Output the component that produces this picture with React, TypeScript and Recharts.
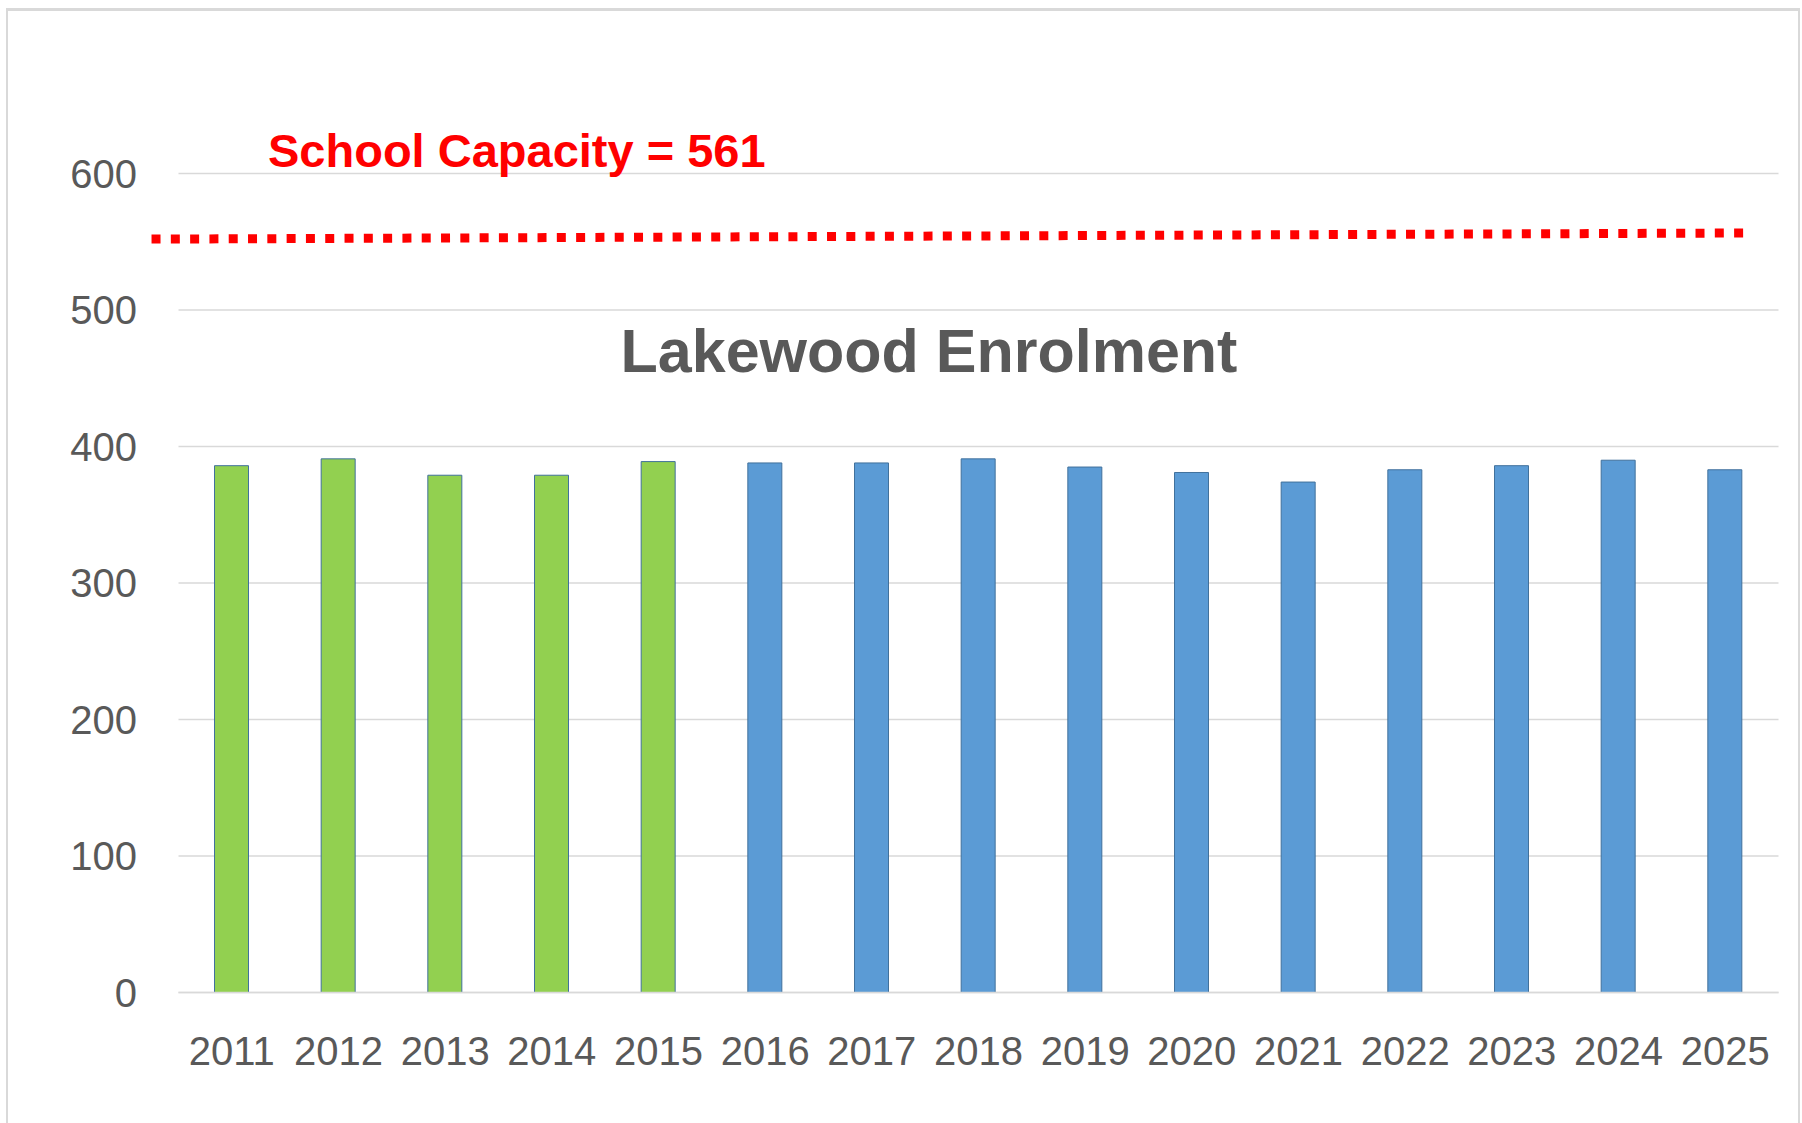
import { Bar, BarChart, CartesianGrid, Cell, ReferenceLine, XAxis, YAxis } from "recharts";

// enrolment by school year; first five are actuals, the rest projections
const years = ["2011", "2012", "2013", "2014", "2015", "2016", "2017", "2018", "2019", "2020", "2021", "2022", "2023", "2024", "2025"];
const enrolment = [386, 391, 379, 379, 389, 388, 388, 391, 385, 381, 374, 383, 386, 390, 383];
const actualCount = 5;
const yTicks = [0, 100, 200, 300, 400, 500, 600];

const capacity = 561;
// the hand-drawn capacity line, in helper-axis (0..14 across the plot) / enrolment units
const capacityLine = [
  { x: -0.236, y: 552 },
  { x: 13.755, y: 556.5 },
];

const title = "Lakewood Enrolment";

const data = years.map((year, i) => ({ year, value: enrolment[i] }));

const FONT = "'Liberation Sans', Arial, sans-serif";
const GREY = "#595959";

export default function App() {
  return (
    <div style={{ position: "absolute", left: 0, top: 0, width: 1802, height: 1123, background: "#fff", overflow: "hidden" }}>
      <div
        style={{
          position: "absolute",
          left: 6,
          top: 8,
          width: 1790,
          height: 1200,
          borderTop: "3px solid #d9d9d9",
          borderLeft: "2px solid #d9d9d9",
          borderRight: "2px solid #d9d9d9",
        }}
      />
      <BarChart
        width={1802}
        height={1123}
        data={data}
        margin={{ top: 173.6, right: 23.5, bottom: 50.5, left: 0 }}
        style={{ position: "absolute", left: 0, top: 0, fontFamily: FONT }}
      >
        <CartesianGrid vertical={false} stroke="#d9d9d9" strokeWidth={1.5} />
        <XAxis
          dataKey="year"
          height={80}
          axisLine={{ stroke: "#d9d9d9", strokeWidth: 1.5 }}
          tickLine={false}
          tickSize={0}
          tickMargin={44}
          interval={0}
          tick={{ fill: GREY, fontSize: 40, fontFamily: FONT }}
        />
        <XAxis xAxisId="cap" type="number" domain={[0, 14]} allowDataOverflow hide />
        <YAxis
          width={178.5}
          domain={[0, 600]}
          ticks={yTicks}
          axisLine={false}
          tickLine={false}
          tickSize={0}
          tickMargin={41.5}
          tick={{ fill: GREY, fontSize: 40, fontFamily: FONT }}
        />
        <Bar dataKey="value" barSize={34} stroke="#41719c" strokeWidth={1} isAnimationActive={false}>
          {data.map((d, i) => (
            <Cell key={d.year} fill={i < actualCount ? "#92d050" : "#5b9bd5"} />
          ))}
        </Bar>
        <ReferenceLine
          xAxisId="cap"
          segment={capacityLine}
          ifOverflow="visible"
          stroke="#ff0000"
          strokeWidth={9}
          strokeDasharray="9 10.3"
        />
        <text x={268} y={167} fill="#ff0000" fontSize={47} fontWeight="bold" fontFamily={FONT}>
          {`School Capacity = ${capacity}`}
        </text>
        <text x={929} y={372} textAnchor="middle" fill={GREY} fontSize={61} fontWeight="bold" fontFamily={FONT}>
          {title}
        </text>
      </BarChart>
    </div>
  );
}
